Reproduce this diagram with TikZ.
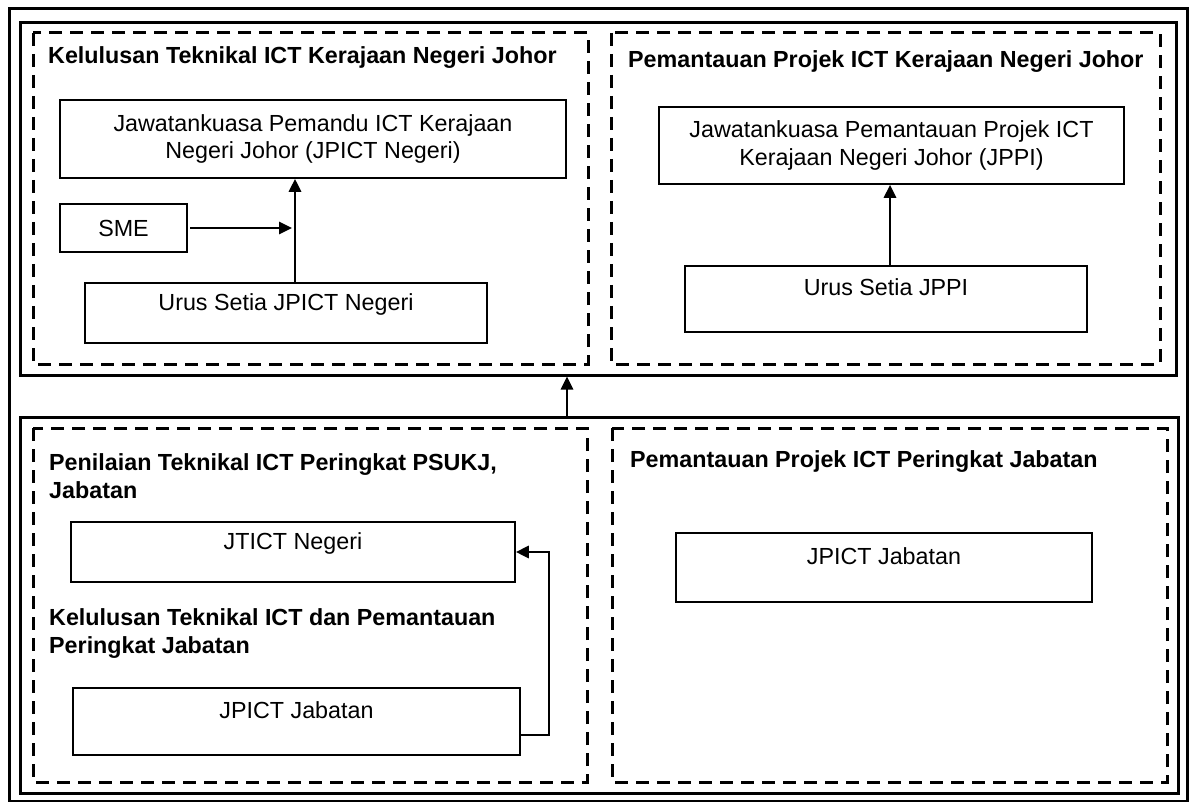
\documentclass[tikz,border=0pt]{standalone}
\usepackage{fontspec}
\setmainfont{Liberation Sans}
\usetikzlibrary{arrows.meta}
\tikzset{
  frame/.style={draw, line width=3pt},
  dbox/.style={draw, line width=3pt, dash pattern=on 13pt off 8pt},
  box/.style={draw, line width=1.6pt, rectangle, inner sep=0pt, align=center, font=\fontsize{23.3pt}{27.5pt}\selectfont},
  onel/.style={box, text height=17pt, text depth=23pt},
  ttl/.style={anchor=west, inner sep=0pt, align=left, font=\fontsize{23.3pt}{28pt}\selectfont\bfseries},
  arr/.style={line width=2.8pt, -{Triangle[length=13pt,width=12pt]}}
}
\begin{document}
\begin{tikzpicture}[x=1pt,y=-1pt]
\useasboundingbox (0,0) rectangle (1191,802);
% outer frames
\draw[frame] (9,9) rectangle (1187,801);
\node[frame, inner sep=0pt, minimum width=1156pt, minimum height=352pt] (upper) at (598,199) {};
\node[frame, inner sep=0pt, minimum width=1158pt, minimum height=376pt] (lower) at (599,605) {};
% dashed panels
\draw[dbox] (33,33) rectangle (588,364);
\draw[dbox] (611,33) rectangle (1160,364);
\draw[dbox] (33,428) rectangle (587,782);
\draw[dbox] (612,428) rectangle (1167,782);
% connector between sections
\draw[arr] (lower.north -| 567,0) -- (upper.south -| 567,0);

% upper-left panel
\node[ttl] (t1) at (48,58) {Kelulusan Teknikal ICT Kerajaan Negeri Johor};
\node[box, minimum width=506pt, minimum height=78pt] (jpict) at (313,139) {Jawatankuasa Pemandu ICT Kerajaan\\Negeri Johor (JPICT Negeri)};
\node[box, minimum width=127pt, minimum height=48pt] (sme) at (123.5,228) {SME};
\node[onel, minimum width=402pt, minimum height=60pt] (urus1) at (286,313) {Urus Setia JPICT Negeri};
\coordinate (smeend) at (292,228);
\draw[arr] (sme.east -| 190,0) -- (smeend);
\draw[arr] (urus1.north -| 295,0) -- (jpict.south -| 295,0);

% upper-right panel
\node[ttl] (t2) at (628,62) {Pemantauan Projek ICT Kerajaan Negeri Johor};
\node[box, minimum width=465pt, minimum height=77pt] (jppi) at (891.5,145.5) {Jawatankuasa Pemantauan Projek ICT\\Kerajaan Negeri Johor (JPPI)};
\node[onel, minimum width=402pt, minimum height=66pt] (urus2) at (886,299) {Urus Setia JPPI};
\draw[arr] (urus2.north -| 890,0) -- (jppi.south -| 890,0);

% lower-left panel
\node[ttl] (t3) at (49,476) {Penilaian Teknikal ICT Peringkat PSUKJ,\\Jabatan};
\node[onel, minimum width=444pt, minimum height=60pt] (jtict) at (293,552) {JTICT Negeri};
\node[ttl] (t4) at (49,634) {Kelulusan Teknikal ICT dan Pemantauan\\Peringkat Jabatan};
\node[onel, minimum width=447pt, minimum height=67pt] (jpj1) at (296.5,721.5) {JPICT Jabatan};
\draw[arr] (jpj1.east |- 0,735) -- (549,735) |- (jtict.east);

% lower-right panel
\node[ttl] (t5) at (630,462) {Pemantauan Projek ICT Peringkat Jabatan};
\node[onel, minimum width=416pt, minimum height=69pt] (jpj2) at (884,567.5) {JPICT Jabatan};
\end{tikzpicture}
\end{document}
